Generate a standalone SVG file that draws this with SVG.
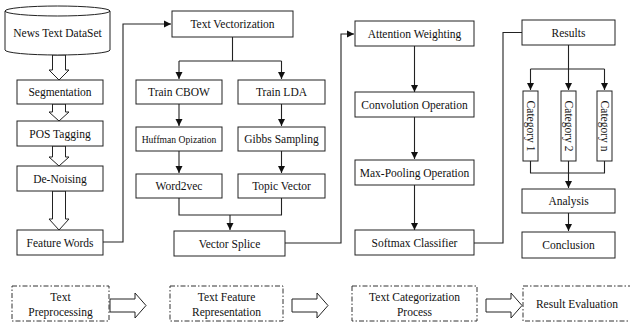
<svg xmlns="http://www.w3.org/2000/svg" width="630" height="327" viewBox="0 0 630 327">
<style>
.b{fill:#fff;stroke:#222;stroke-width:1}
.t{font-family:"Liberation Serif","Times New Roman",serif;font-size:11.5px;fill:#111;text-anchor:middle;dominant-baseline:central}
.s{font-size:9.6px}
.c{fill:none;stroke:#222;stroke-width:1.1}
.h{fill:#fff;stroke:#222;stroke-width:1}
.d{fill:none;stroke:#333;stroke-width:1;stroke-dasharray:5 2 1.5 2}
</style>
<defs>
<marker id="a" markerWidth="8" markerHeight="8" refX="7" refY="4" orient="auto" markerUnits="userSpaceOnUse">
<path d="M0,0.5 L7,4 L0,7.5 z" fill="#111"/>
</marker>
</defs>
<rect width="630" height="327" fill="#fff"/>

<g id="connectors">
<path class="h" d="M52.5,55 V70 H49 L59,80 L69,70 H65.5 V55 z"/>
<path class="h" d="M52.5,104 V112 H49 L59,121 L69,112 H65.5 V104 z"/>
<path class="h" d="M52.5,146 V157 H49 L59,166 L69,157 H65.5 V146 z"/>
<path class="h" d="M52.5,191 V219 H49 L59,230 L69,219 H65.5 V191 z"/>
<path class="c" d="M103,242 H123 V24 H171" marker-end="url(#a)"/>
<path class="c" d="M232.5,37 V61"/>
<path class="c" d="M179,61 H281.5"/>
<path class="c" d="M179,61 V79" marker-end="url(#a)"/>
<path class="c" d="M281.5,61 V79" marker-end="url(#a)"/>
<path class="c" d="M179,104 V126" marker-end="url(#a)"/>
<path class="c" d="M281.5,104 V126" marker-end="url(#a)"/>
<path class="c" d="M179,151 V173" marker-end="url(#a)"/>
<path class="c" d="M281.5,151 V173" marker-end="url(#a)"/>
<path class="c" d="M179,198 V215 H281.5 V198"/>
<path class="c" d="M230,215 V230" marker-end="url(#a)"/>
<path class="c" d="M285,243 H341 V34 H354" marker-end="url(#a)"/>
<path class="c" d="M414.5,46 V92" marker-end="url(#a)"/>
<path class="c" d="M414.5,117 V159" marker-end="url(#a)"/>
<path class="c" d="M414.5,185 V230" marker-end="url(#a)"/>
<path class="c" d="M474,243 H503 V32.5 H522"/>
<path class="c" d="M568.5,45 V90" marker-end="url(#a)"/>
<path class="c" d="M530.5,69 H604.5"/>
<path class="c" d="M530.5,69 V90" marker-end="url(#a)"/>
<path class="c" d="M604.5,69 V90" marker-end="url(#a)"/>
<path class="c" d="M530.5,161 V173 H604.5 V161"/>
<path class="c" d="M568.5,161 V188" marker-end="url(#a)"/>
<path class="c" d="M568.5,213 V231" marker-end="url(#a)"/>
<path class="h" d="M110,299 H135 V293 L146,305.5 L135,318 V312 H110 z"/>
<path class="h" d="M292,299 H317 V293 L328,305.5 L317,318 V312 H292 z"/>
<path class="h" d="M486,299 H511 V293 L522,305.5 L511,318 V312 H486 z"/>
</g>

<g id="news-text-dataset">
<path class="b" d="M5,11 V50 A52.5,5 0 0 0 110,50 V11"/>
<ellipse class="b" cx="57.5" cy="11" rx="52.5" ry="5"/>
<text class="t" x="57.5" y="33">News Text DataSet</text>
</g>
<g id="segmentation"><rect class="b" x="17" y="80" width="86" height="24"/><text class="t" x="60" y="92">Segmentation</text></g>
<g id="pos-tagging"><rect class="b" x="17" y="121" width="86" height="25"/><text class="t" x="60" y="133.5">POS Tagging</text></g>
<g id="de-noising"><rect class="b" x="17" y="166" width="86" height="25"/><text class="t" x="60" y="178.5">De-Noising</text></g>
<g id="feature-words"><rect class="b" x="17" y="230" width="86" height="25"/><text class="t" x="60" y="242.5">Feature Words</text></g>

<g id="text-vectorization"><rect class="b" x="172" y="11" width="121" height="26"/><text class="t" x="232.5" y="24">Text Vectorization</text></g>
<g id="train-cbow"><rect class="b" x="136" y="80" width="86" height="24"/><text class="t" x="179" y="92">Train CBOW</text></g>
<g id="train-lda"><rect class="b" x="238" y="80" width="87" height="24"/><text class="t" x="281.5" y="92">Train LDA</text></g>
<g id="huffman"><rect class="b" x="136" y="127" width="86" height="24"/><text class="t s" x="179" y="139">Huffman Opization</text></g>
<g id="gibbs"><rect class="b" x="238" y="127" width="87" height="24"/><text class="t" x="281.5" y="139">Gibbs Sampling</text></g>
<g id="word2vec"><rect class="b" x="136" y="174" width="86" height="24"/><text class="t" x="179" y="186">Word2vec</text></g>
<g id="topic-vector"><rect class="b" x="238" y="174" width="87" height="24"/><text class="t" x="281.5" y="186">Topic Vector</text></g>
<g id="vector-splice"><rect class="b" x="174" y="231" width="111" height="25"/><text class="t" x="229.5" y="243.5">Vector Splice</text></g>

<g id="attention"><rect class="b" x="355" y="21" width="119" height="25"/><text class="t" x="414.5" y="33.5">Attention Weighting</text></g>
<g id="convolution"><rect class="b" x="355" y="92" width="119" height="25"/><text class="t" x="414.5" y="104.5">Convolution Operation</text></g>
<g id="max-pooling"><rect class="b" x="355" y="160" width="119" height="25"/><text class="t" x="414.5" y="172.5">Max-Pooling Operation</text></g>
<g id="softmax"><rect class="b" x="355" y="230" width="119" height="25"/><text class="t" x="414.5" y="242.5">Softmax Classifier</text></g>

<g id="results"><rect class="b" x="522" y="20" width="93" height="25"/><text class="t" x="568.5" y="32.5">Results</text></g>
<g id="category-1"><rect class="b" x="523" y="91" width="15" height="70"/><text class="t" transform="translate(530.5,126) rotate(90)">Category 1</text></g>
<g id="category-2"><rect class="b" x="561" y="91" width="15" height="70"/><text class="t" transform="translate(568.5,126) rotate(90)">Category 2</text></g>
<g id="category-n"><rect class="b" x="597" y="91" width="15" height="70"/><text class="t" transform="translate(604.5,126) rotate(90)">Category n</text></g>
<g id="analysis"><rect class="b" x="522" y="189" width="93" height="24"/><text class="t" x="568.5" y="201">Analysis</text></g>
<g id="conclusion"><rect class="b" x="522" y="232" width="93" height="26"/><text class="t" x="568.5" y="245">Conclusion</text></g>

<g id="text-preprocessing"><rect class="d" x="12" y="286" width="97" height="35"/><text class="t" x="60.5" y="296.5">Text</text><text class="t" x="60.5" y="311.5">Preprocessing</text></g>
<g id="text-feature-representation"><rect class="d" x="170" y="286" width="113" height="35"/><text class="t" x="226.5" y="296.5">Text Feature</text><text class="t" x="226.5" y="311.5">Representation</text></g>
<g id="text-categorization-process"><rect class="d" x="352" y="286" width="125" height="35"/><text class="t" x="414.5" y="296.5">Text Categorization</text><text class="t" x="414.5" y="311.5">Process</text></g>
<g id="result-evaluation"><rect class="d" x="523" y="286" width="112" height="35"/><text class="t" x="577" y="304">Result Evaluation</text></g>
</svg>
